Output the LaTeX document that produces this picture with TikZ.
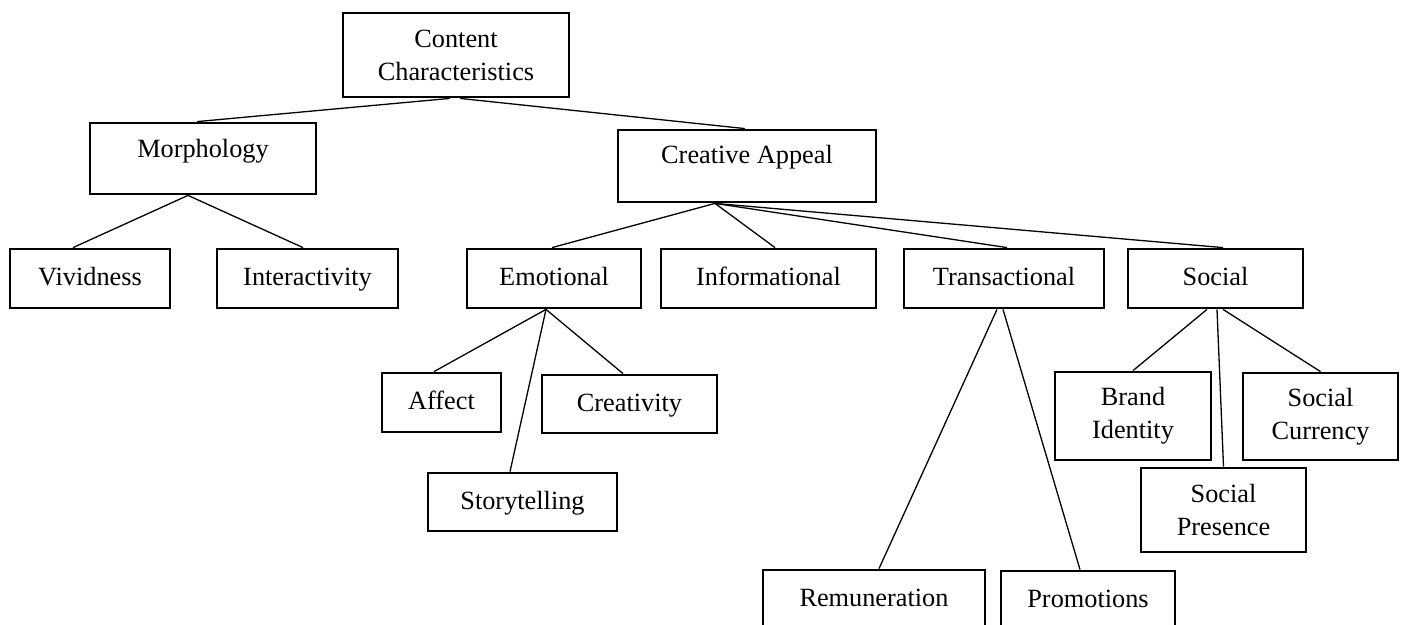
\documentclass[tikz,border=0pt]{standalone}
\usepackage{fontspec}
\setmainfont{Liberation Serif}
\tikzset{
  catbox/.style={draw, line width=2.8bp, inner sep=0pt, minimum height=59bp, text height=18bp, text depth=4bp, font=\fontsize{26.3bp}{33bp}\selectfont},
  topbox/.style={draw, line width=2.8bp, inner sep=0pt, font=\fontsize{26.3bp}{33bp}\selectfont},
  pairbox/.style={draw, line width=2.8bp, inner sep=0pt, align=center, font=\fontsize{26.3bp}{33bp}\selectfont},
  link/.style={line width=1.3bp}
}

\begin{document}
\begin{tikzpicture}[x=1bp, y=-1bp]
  \clip (0,0) rectangle (1403,625);
  % top levels
  \node[pairbox, minimum width=226bp, minimum height=84bp] (cc) at (456,55) {Content\\Characteristics};
  \node[topbox, minimum width=226bp, text height=35bp, text depth=36bp] (morph) at (203,158.5) {Morphology};
  \node[topbox, minimum width=258bp, text height=34bp, text depth=38bp] (appeal) at (747,166) {Creative Appeal};
  % second row
  \node[catbox, minimum width=160bp] (vivid) at (90,278.5) {Vividness};
  \node[catbox, minimum width=181bp] (inter) at (307.5,278.5) {Interactivity};
  \node[catbox, minimum width=174bp] (emot) at (554,278.5) {Emotional};
  \node[catbox, minimum width=215bp] (info) at (768.5,278.5) {Informational};
  \node[catbox, minimum width=200bp] (trans) at (1004,278.5) {Transactional};
  \node[catbox, minimum width=175bp] (social) at (1215.5,278.5) {Social};
  % emotional appeal
  \node[catbox, minimum width=119bp] (affect) at (441.5,402.5) {Affect};
  \node[catbox, minimum width=175bp, minimum height=58bp] (creat) at (629.5,404) {Creativity};
  \node[catbox, minimum width=189bp, minimum height=58bp] (story) at (522.5,502) {Storytelling};
  % transactional appeal
  \node[catbox, minimum width=222bp] (remun) at (874,599.5) {Remuneration};
  \node[catbox, minimum width=174bp] (promo) at (1088,600.5) {Promotions};
  % social appeal
  \node[pairbox, minimum width=156bp, minimum height=88bp] (brand) at (1133,416) {Brand\\Identity};
  \node[pairbox, minimum width=155bp, minimum height=87bp] (currency) at (1320.5,416.5) {Social\\Currency};
  \node[pairbox, minimum width=165bp, minimum height=84bp] (presence) at (1223.5,510) {Social\\Presence};

  \draw[link] ([xshift=-6bp]cc.south) -- ([xshift=-6bp]morph.north);
  \draw[link] ([xshift=4bp]cc.south) -- ([xshift=-2bp]appeal.north);
  \draw[link] ([xshift=-15bp]morph.south) -- ([xshift=-17bp]vivid.north);
  \draw[link] ([xshift=-15bp]morph.south) -- ([xshift=-4.5bp]inter.north);
  \draw[link] ([xshift=-32bp]appeal.south) -- ([xshift=-2bp]emot.north);
  \draw[link] ([xshift=-32bp]appeal.south) -- ([xshift=6.5bp]info.north);
  \draw[link] ([xshift=-32bp]appeal.south) -- ([xshift=3bp]trans.north);
  \draw[link] ([xshift=-32bp]appeal.south) -- ([xshift=7.5bp]social.north);
  \draw[link] ([xshift=-8bp]emot.south) -- ([xshift=-7.5bp]affect.north);
  \draw[link] ([xshift=-8bp]emot.south) -- ([xshift=-12.5bp]story.north);
  \draw[link] ([xshift=-8bp]emot.south) -- ([xshift=-6.5bp]creat.north);
  \draw[link] ([xshift=-7bp]trans.south) -- ([xshift=5bp]remun.north);
  \draw[link] ([xshift=-1bp]trans.south) -- ([xshift=-8bp]promo.north);
  \draw[link] ([xshift=-8.5bp]social.south) -- (brand.north);
  \draw[link] ([xshift=1.5bp]social.south) -- (presence.north);
  \draw[link] ([xshift=7.5bp]social.south) -- (currency.north);
\end{tikzpicture}
\end{document}
